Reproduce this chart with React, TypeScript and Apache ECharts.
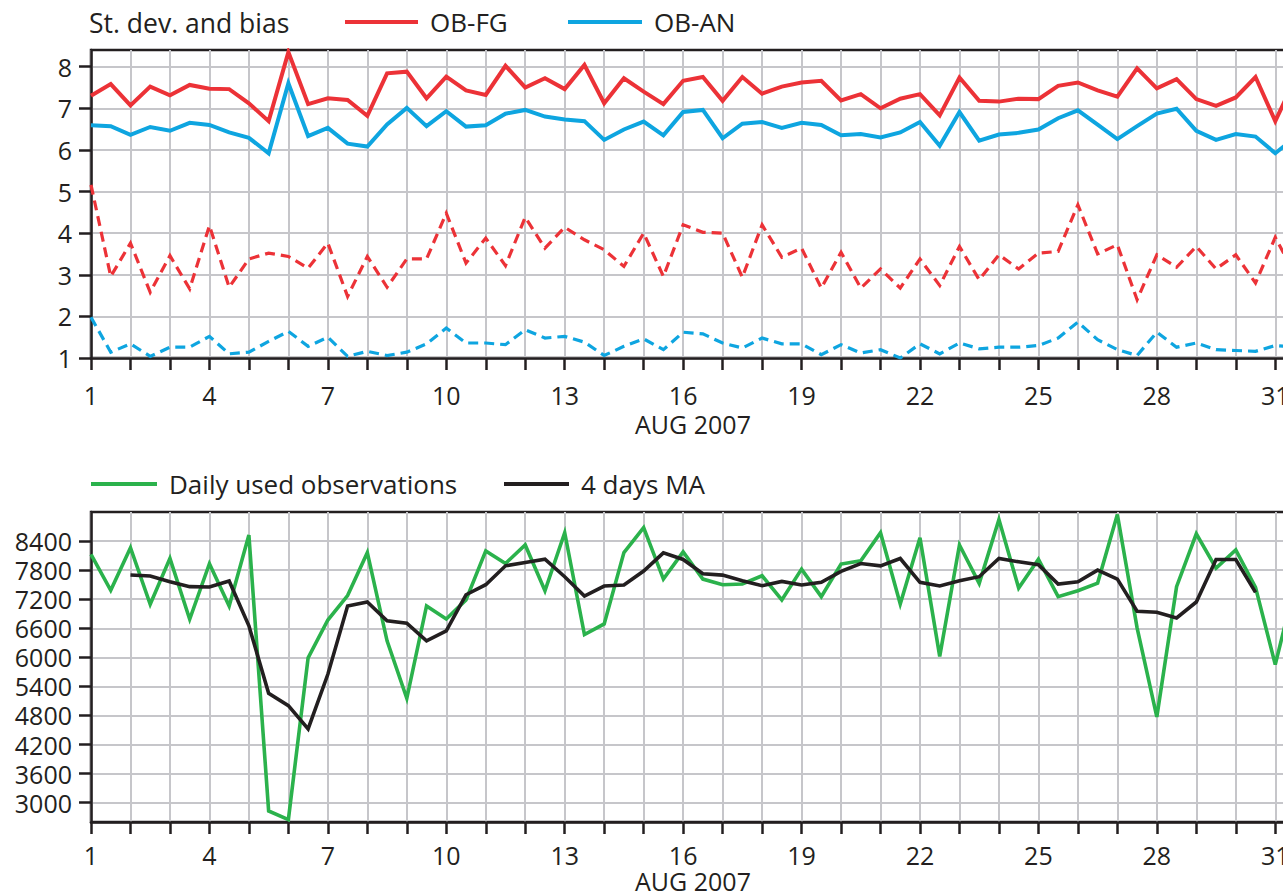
import React, { useEffect, useRef } from "react";
import * as echarts from "echarts";

// half-day time steps, August 2007
const DAYS = [
  1, 1.5, 2, 2.5, 3, 3.5, 4, 4.5, 5, 5.5, 6, 6.5, 7, 7.5, 8, 8.5, 9, 9.5, 10,
  10.5, 11, 11.5, 12, 12.5, 13, 13.5, 14, 14.5, 15, 15.5, 16, 16.5, 17, 17.5, 18, 18.5, 19, 19.5, 20, 20.5, 21,
  21.5, 22, 22.5, 23, 23.5, 24, 24.5, 25, 25.5, 26, 26.5, 27, 27.5, 28, 28.5, 29, 29.5, 30, 30.5, 31, 31.5,
];

const OB_FG_STD = [
  7.3, 7.58, 7.07, 7.52, 7.31, 7.56, 7.47, 7.46, 7.12, 6.69, 8.35, 7.1, 7.24, 7.2, 6.82, 7.84, 7.88, 7.24, 7.76,
  7.43, 7.32, 8.02, 7.5, 7.72, 7.46, 8.04, 7.12, 7.72, 7.4, 7.1, 7.66, 7.75, 7.18, 7.75, 7.35, 7.52, 7.62, 7.66, 7.19, 7.34, 7.0,
  7.23, 7.34, 6.83, 7.74, 7.18, 7.16, 7.23, 7.22, 7.54, 7.62, 7.43, 7.28, 7.96, 7.48, 7.7, 7.22, 7.06, 7.26, 7.75, 6.69, 7.7,
];
const OB_AN_STD = [
  6.59, 6.57, 6.36, 6.55, 6.46, 6.65, 6.6, 6.42, 6.29, 5.92, 7.6, 6.33, 6.53, 6.15, 6.08, 6.61, 7.01, 6.57, 6.93,
  6.56, 6.59, 6.87, 6.96, 6.8, 6.73, 6.69, 6.24, 6.49, 6.68, 6.35, 6.91, 6.96, 6.28, 6.63, 6.67, 6.53, 6.65, 6.6, 6.35, 6.38, 6.3,
  6.42, 6.67, 6.1, 6.91, 6.22, 6.37, 6.41, 6.49, 6.76, 6.95, 6.61, 6.26, 6.57, 6.87, 6.99, 6.46, 6.24, 6.38, 6.32, 5.92, 6.3,
];
const OB_FG_BIAS = [
  5.16, 2.96, 3.76, 2.58, 3.46, 2.66, 4.18, 2.7, 3.38, 3.52, 3.44, 3.16, 3.76, 2.48, 3.44, 2.7, 3.38, 3.38, 4.48,
  3.28, 3.88, 3.22, 4.38, 3.64, 4.14, 3.84, 3.6, 3.2, 4.0, 2.96, 4.2, 4.02, 4.0, 2.94, 4.2, 3.42, 3.64, 2.68, 3.54, 2.68, 3.14,
  2.68, 3.38, 2.74, 3.68, 2.88, 3.48, 3.14, 3.52, 3.56, 4.68, 3.5, 3.72, 2.4, 3.48, 3.18, 3.68, 3.14, 3.48, 2.8, 3.9, 3.0,
];
const OB_AN_BIAS = [
  1.98, 1.14, 1.34, 1.04, 1.26, 1.26, 1.52, 1.1, 1.14, 1.4, 1.64, 1.28, 1.5, 1.04, 1.16, 1.06, 1.14, 1.34, 1.72,
  1.36, 1.36, 1.32, 1.68, 1.48, 1.52, 1.38, 1.06, 1.28, 1.46, 1.2, 1.62, 1.58, 1.36, 1.24, 1.48, 1.34, 1.34, 1.08, 1.32, 1.12, 1.2,
  1.0, 1.34, 1.1, 1.36, 1.22, 1.26, 1.26, 1.3, 1.48, 1.86, 1.44, 1.2, 1.06, 1.62, 1.26, 1.36, 1.2, 1.18, 1.16, 1.3, 1.26,
];
const DAILY_OBS = [
  8125, 7383, 8263, 7095, 8043, 6786, 7933, 7060, 8524, 2828, 2650, 5990, 6770, 7275, 8160, 6340, 5153, 7060, 6790,
  7186, 8197, 7937, 8320, 7375, 8572, 6470, 6689, 8163, 8676, 7615, 8177, 7615, 7499, 7513, 7684, 7186, 7821, 7252, 7925, 7993, 8572,
  7100, 8468, 6020, 8318, 7526, 8845, 7430, 8026, 7252, 7375, 7533, 8948, 6607, 4770, 7457, 8551, 7841, 8215, 7444, 5850, 7500,
];
const MA_4DAYS = [
  null, null,
  7700, 7680, 7562, 7459, 7452, 7576, 6650, 5256, 5002, 4521, 5650, 7060, 7142, 6752, 6704, 6340, 6546,
  7292, 7499, 7889, 7958, 8027, 7664, 7265, 7471, 7492, 7780, 8157, 8020, 7726, 7697, 7580, 7478, 7567, 7492, 7547, 7773, 7937, 7889,
  8040, 7547, 7472, 7580, 7664, 8040, 7971, 7910, 7513, 7560, 7800, 7615, 6950, 6929, 6812, 7142, 8020, 8020, 7340,
  null, null,
];

const TOP_TICKS = [1, 2, 3, 4, 5, 6, 7, 8];
const BOTTOM_TICKS = [3000, 3600, 4200, 4800, 5400, 6000, 6600, 7200, 7800, 8400];

const FONT = "'Open Sans', 'Noto Sans', sans-serif";
const TXT = "#231f20";
const GRIDC = "#c6c6ca";
const RED = "#ec3237";
const BLUE = "#0ea5e0";
const GREEN = "#2bb24c";
const BLACK = "#231f20";

const pairs = (vals: (number | null)[]) => DAYS.map((d, i) => [d, vals[i]]);

const xAxisFor = (gridIndex: number, labelMargin: number, nameGap: number) => ({
  type: "value",
  gridIndex,
  min: 1,
  max: 31.5,
  interval: 1,
  axisLine: { show: true, onZero: false, lineStyle: { color: TXT, width: 2.5 } },
  axisTick: { show: true, length: 12, lineStyle: { color: TXT, width: 2.5 } },
  axisLabel: {
    fontFamily: FONT,
    fontSize: 25,
    lineHeight: 22,
    color: TXT,
    margin: labelMargin,
    hideOverlap: false,
    formatter: (v: number) => (Number.isInteger(v) && (v - 1) % 3 === 0 ? String(v) : ""),
  },
  splitLine: { show: true, lineStyle: { color: GRIDC, width: 2 } },
  name: "AUG 2007",
  nameLocation: "middle",
  nameGap,
  nameTextStyle: { fontFamily: FONT, fontSize: 25, lineHeight: 25, color: TXT },
});

const yAxisFor = (gridIndex: number, min: number, max: number, ticks: number[]) => ({
  type: "value",
  gridIndex,
  min,
  max,
  axisLine: { show: true, lineStyle: { color: TXT, width: 2.5 } },
  axisTick: { show: true, length: 12, customValues: ticks, lineStyle: { color: TXT, width: 2.5 } },
  axisLabel: {
    customValues: ticks,
    fontFamily: FONT,
    fontSize: 25,
    lineHeight: 26,
    color: TXT,
    margin: 19,
    formatter: (v: number) => String(v),
  },
  splitLine: { show: true, lineStyle: { color: GRIDC, width: 2 } },
});

const legendFor = (name: string, left: number, top: number, width: number) => ({
  data: [name],
  left,
  top,
  padding: 0,
  icon: "rect",
  itemWidth: width,
  itemHeight: 4,
  selectedMode: false,
  formatter: (n: string) => `{t|${n}}`,
  textStyle: {
    color: TXT,
    rich: { t: { fontFamily: FONT, fontSize: 26, color: TXT, padding: [0, 0, 0, 7], lineHeight: 30 } },
  },
});

const lineSeries = (
  name: string,
  vals: (number | null)[],
  color: string,
  width: number,
  axis: number,
  dashed = false
) => ({
  type: "line",
  name,
  xAxisIndex: axis,
  yAxisIndex: axis,
  data: pairs(vals),
  symbol: "none",
  showSymbol: false,
  color,
  connectNulls: false,
  lineStyle: { color, width, type: dashed ? [10, 6] : "solid", cap: "butt", join: "miter" },
  z: 3,
});

const gridFor = (top: number, height: number) => ({
  left: 91,
  top,
  width: 1204,
  height,
  show: true,
  borderColor: TXT,
  borderWidth: 2.5,
  backgroundColor: "transparent",
  containLabel: false,
  outerBoundsMode: "none",
});

const option = {
  animation: false,
  backgroundColor: "#ffffff",
  title: {
    text: "St. dev. and bias",
    left: 89,
    top: 8,
    padding: 0,
    textStyle: { fontFamily: FONT, fontSize: 26.5, fontWeight: "normal", color: TXT, lineHeight: 30 },
  },
  legend: [
    legendFor("OB-FG", 345, 9, 73),
    legendFor("OB-AN", 568, 9, 74),
    legendFor("Daily used observations", 91, 471, 66),
    legendFor("4 days MA", 504, 471, 65),
  ],
  grid: [gridFor(50, 308), gridFor(512, 310)],
  xAxis: [xAxisFor(0, 26, 53), xAxisFor(1, 22, 45)],
  yAxis: [yAxisFor(0, 1, 8.4, TOP_TICKS), yAxisFor(1, 2600, 9000, BOTTOM_TICKS)],
  series: [
    lineSeries("OB-FG", OB_FG_STD, RED, 4, 0),
    lineSeries("OB-AN", OB_AN_STD, BLUE, 4, 0),
    lineSeries("OB-FG bias", OB_FG_BIAS, RED, 3.2, 0, true),
    lineSeries("OB-AN bias", OB_AN_BIAS, BLUE, 3.2, 0, true),
    lineSeries("Daily used observations", DAILY_OBS, GREEN, 3.6, 1),
    lineSeries("4 days MA", MA_4DAYS, BLACK, 3.6, 1),
  ],
};

export default function App() {
  const ref = useRef<HTMLDivElement>(null);
  useEffect(() => {
    if (!ref.current) return;
    const chart = echarts.init(ref.current, null, { renderer: "svg" });
    chart.setOption(option as any);
    return () => chart.dispose();
  }, []);
  return (
    <div
      ref={ref}
      style={{ position: "fixed", left: 0, top: 0, width: 1283, height: 895, background: "#fff", overflow: "hidden" }}
    />
  );
}
